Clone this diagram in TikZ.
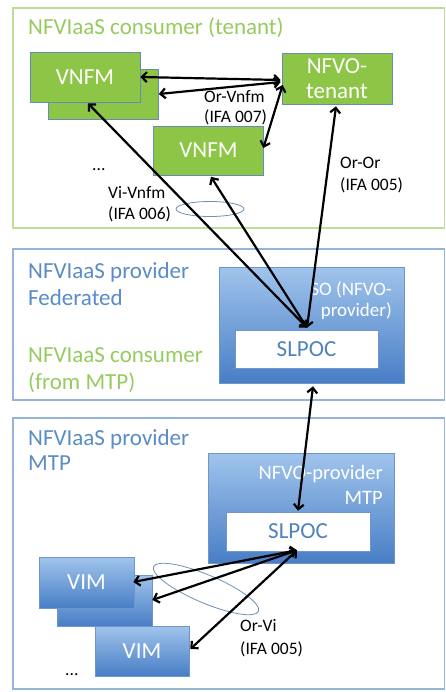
\documentclass[tikz,border=0pt]{standalone}
\usepackage{fontspec}
\setmainfont{Carlito}
\usetikzlibrary{arrows.meta,calc}
\definecolor{gfill}{RGB}{141,198,70}
\definecolor{gborder}{RGB}{100,140,180}
\definecolor{gframe}{RGB}{190,222,150}
\definecolor{gtext}{RGB}{150,204,95}
\definecolor{bframe}{RGB}{150,180,215}
\definecolor{btext}{RGB}{90,140,200}
\definecolor{btop}{RGB}{160,196,236}
\definecolor{bbot}{RGB}{72,126,198}
\definecolor{bborder}{RGB}{110,150,205}
\definecolor{slpoctext}{RGB}{80,130,190}
\definecolor{ellc}{RGB}{110,145,185}
\begin{document}
\begin{tikzpicture}[x=1pt,y=-1pt,
 big/.style={font=\fontsize{23}{27}\selectfont, inner sep=0pt, anchor=west, align=left},
 gbox/.style={draw=gborder, line width=0.7pt, fill=gfill, text=white, inner sep=0pt, font=\fontsize{23}{24}\selectfont, align=center},
 bbox/.style={draw=bborder, line width=0.7pt, top color=btop, bottom color=bbot, inner sep=0pt},
 vbox/.style={bbox, text=white, font=\fontsize{23}{24}\selectfont},
 wbox/.style={draw=bborder, line width=0.5pt, fill=white, text=slpoctext, inner sep=0pt, font=\fontsize{23}{24}\selectfont},
 frame/.style={line width=1.2pt},
 lbl/.style={font=\fontsize{17.5}{21}\selectfont, align=left, inner sep=0pt, anchor=west},
 conn/.style={line width=2.2pt, {Straight Barb[length=5pt,width=10pt]}-{Straight Barb[length=5pt,width=10pt]}},
 ell/.style={draw=ellc, line width=0.8pt},
]
\useasboundingbox (0,0) rectangle (446,692);
\fill[white] (0,0) rectangle (446,692);

% frames
\draw[frame, draw=gframe] (13,8) rectangle (444.5,228);
\draw[frame, draw=bframe] (13,249) rectangle (444.5,400);
\draw[frame, draw=bframe] (13,418) rectangle (444.5,689);

% frame titles
\node[big, text=gtext] (t1) at (28,28) {NFVIaaS consumer (tenant)};
\node[big, text=btext] (t2) at (28,284) {NFVIaaS provider\\Federated};
\node[big, text=gtext] (t3) at (28,370.5) {NFVIaaS consumer\\(from MTP)};
\node[big, text=btext, font=\fontsize{23}{25}\selectfont] (t4) at (28,450.5) {NFVIaaS provider\\MTP};

% green boxes
\node[gbox, minimum width=110pt, minimum height=50pt] (vnfmB) at (103.5,94) {};
\node[gbox, minimum width=110pt, minimum height=50pt] (vnfmA) at (85,77) {VNFM};
\node[gbox, minimum width=110pt, minimum height=51pt, font=\fontsize{23}{25}\selectfont] (nfvo) at (337,78.5) {NFVO-\\tenant};
\node[gbox, minimum width=110pt, minimum height=49pt] (vnfmC) at (208.5,150.5) {VNFM};
\node[lbl] (dots1) at (92,170) {...};

% federated provider
\node[bbox, minimum width=185pt, minimum height=116pt] (so) at (311.5,325) {};
\node[anchor=east, inner sep=0pt, align=right, text=white, font=\fontsize{19}{21}\selectfont] (sotext) at (392,300.5) {SO (NFVO-\\provider)};
\node[wbox, minimum width=143pt, minimum height=38pt] (slpoc1) at (306.5,349) {SLPOC};

% MTP provider
\node[bbox, minimum width=186pt, minimum height=110pt] (mtpo) at (301,508) {};
\node[anchor=east, inner sep=0pt, align=right, text=white, font=\fontsize{20.5}{25}\selectfont] (mtptext) at (383,484.5) {NFVO-provider\\MTP};
\node[wbox, minimum width=144pt, minimum height=39pt] (slpoc2) at (298,531.5) {SLPOC};

\node[vbox, minimum width=95pt, minimum height=51pt] (vimB) at (104.5,600.5) {};
\node[vbox, minimum width=95pt, minimum height=51pt] (vimA) at (86.5,582.5) {VIM};
\node[vbox, minimum width=94pt, minimum height=50pt] (vimC) at (142,651) {VIM};
\node[lbl] (dots2) at (65,675) {...};

% ellipses
\draw[ell] (210,209) ellipse [x radius=34pt, y radius=7.5pt];
\draw[ell, rotate around={-23:(206,589)}] (206,589) ellipse [x radius=57pt, y radius=14pt];

% labels
\node[lbl, font=\fontsize{17.5}{20}\selectfont] (l1) at (204,108) {Or-Vnfm\\(IFA 007)};
\node[lbl, font=\fontsize{17.5}{22}\selectfont] (l2) at (340,175) {Or-Or\\(IFA 005)};
\node[lbl] (l3) at (108,204.5) {Vi-Vnfm\\(IFA 006)};
\node[lbl, font=\fontsize{17.5}{23}\selectfont] (l4) at (240,638.5) {Or-Vi\\(IFA 005)};

% connectors
\draw[conn] (vnfmA.east) -- ($(nfvo.west)+(-1,1.5)$);
\draw[conn] (vnfmB.east) -- ($(nfvo.west)+(-1,3.5)$);
\draw[conn] ($(nfvo.west)+(1,6.5)$) -- ($(vnfmC.east)+(-0.5,-2.5)$);

\draw[conn] ($(slpoc1.north)+(0.5,-2)$) -- ($(vnfmA.south)+(3,1)$);
\draw[conn] ($(slpoc1.north)+(0.5,-2)$) -- ($(vnfmC.south)+(2.5,1.5)$);
\draw[conn] ($(slpoc1.north)+(0.5,-2)$) -- ($(nfvo.south)+(-1,2)$);

\draw[conn] ($(so.south)+(1.5,3)$) -- ($(slpoc2.north)+(0,-1)$);

\draw[conn] ($(slpoc2.south)+(-1,-1)$) -- ($(vimA.east)+(-1,-0.5)$);
\draw[conn] ($(slpoc2.south)+(-1,-1)$) -- ($(vimB.east)+(0,-0.5)$);
\draw[conn] ($(slpoc2.south)+(-1,-1)$) -- ($(vimC.east)+(1,-2)$);
\end{tikzpicture}
\end{document}
